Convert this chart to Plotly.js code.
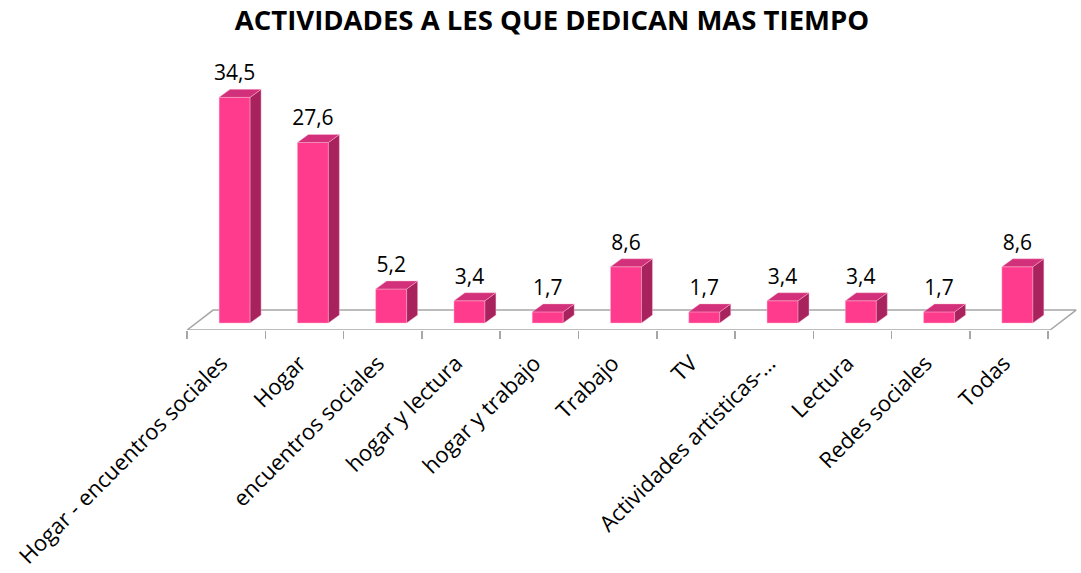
<!DOCTYPE html>
<html>
<head>
<meta charset="utf-8">
<script src="https://cdn.plot.ly/plotly-3.0.1.min.js"></script>
<style>html,body{margin:0;padding:0;background:#fff;}#chart{width:1081px;height:573px;}</style>
</head>
<body>
<div id="chart"></div>
<script>
// ---- data ----
const categories = ["Hogar - encuentros sociales","Hogar","encuentros sociales","hogar y lectura","hogar y trabajo","Trabajo","TV","Actividades artisticas-…","Lectura","Redes sociales","Todas"];
const values = [34.5, 27.6, 5.2, 3.4, 1.7, 8.6, 1.7, 3.4, 3.4, 1.7, 8.6];
const valueLabels = ["34,5","27,6","5,2","3,4","1,7","8,6","1,7","3,4","3,4","1,7","8,6"];
const chartTitle = "ACTIVIDADES A LES QUE DEDICAN MAS TIEMPO";

// ---- 3D look parameters (styling) ----
const half = 0.198;   // half bar width (category units)
const dx = 0.14;      // depth offset x (category units)
const dy = 1.22;      // depth offset y (value units)
const floorFrontY = -1.07, floorBackY = 1.98;
const floorFrontX0 = -0.607, floorFrontX1 = 10.418, floorDX = 0.332;

const idx = categories.map((c, i) => i);

function polys(fn) {
  const xs = [], ys = [];
  idx.forEach(i => {
    const pts = fn(i, values[i]);
    pts.forEach(p => { xs.push(p[0]); ys.push(p[1]); });
    xs.push(pts[0][0]); ys.push(pts[0][1]);
    xs.push(null); ys.push(null);
  });
  return {xs, ys};
}

const frontFaces = polys((i, v) => [[i-half,0],[i+half,0],[i+half,v],[i-half,v]]);
const sideFaces = polys((i, v) => [[i+half,0],[i+half+dx,dy],[i+half+dx,v+dy],[i+half,v]]);
const topFaces = polys((i, v) => [[i-half,v],[i+half,v],[i+half+dx,v+dy],[i-half+dx,v+dy]]);

const floorTrace = {
  x: [floorFrontX0, floorFrontX1, floorFrontX1+floorDX, floorFrontX0+floorDX, floorFrontX0],
  y: [floorFrontY, floorFrontY, floorBackY, floorBackY, floorFrontY],
  mode: 'lines', line: {color: '#a6a6a6', width: 1.5}, hoverinfo: 'skip', xaxis: 'x', yaxis: 'y'
};

const faceTrace = (d, color) => ({
  x: d.xs, y: d.ys, mode: 'lines', fill: 'toself', fillcolor: color,
  line: {color: 'rgba(255,190,215,0.7)', width: 0.6}, hoverinfo: 'skip', connectgaps: false,
  xaxis: 'x', yaxis: 'y'
});

const labelTrace = {
  x: idx, y: values.map(v => v + dy + 0.6), text: valueLabels,
  mode: 'text', textposition: 'top center', cliponaxis: false,
  textfont: {family: 'Open Sans, sans-serif', size: 21, color: '#000'},
  hoverinfo: 'skip', xaxis: 'x', yaxis: 'y'
};

const catTrace = {
  x: categories, y: categories.map(() => 0), mode: 'markers',
  marker: {opacity: 0}, hoverinfo: 'skip', xaxis: 'x2', yaxis: 'y'
};

const data = [floorTrace, faceTrace(frontFaces, '#FF3B8D'), faceTrace(sideFaces, '#A8235E'), faceTrace(topFaces, '#D2307A'), labelTrace, catTrace];

const layout = {
  width: 1081, height: 573,
  margin: {l: 172, r: 1, t: 81, b: 243},
  paper_bgcolor: '#fff', plot_bgcolor: 'rgba(0,0,0,0)',
  showlegend: false,
  title: {
    text: '<b>' + chartTitle + '</b>',
    font: {family: 'Open Sans, sans-serif', size: 27.5, color: '#000'},
    x: 0.5106, xref: 'container', xanchor: 'center',
    y: 1 - 20/573, yref: 'container', yanchor: 'middle'
  },
  xaxis: {range: [-0.8, 10.8], visible: false, fixedrange: true},
  xaxis2: {
    type: 'category', categoryorder: 'array', categoryarray: categories,
    range: [-0.693, 10.907], overlaying: 'x', anchor: 'y', side: 'bottom',
    tickangle: -45, ticks: 'outside', tickson: 'boundaries', ticklen: 8, tickwidth: 1.5,
    tickcolor: '#a6a6a6', showgrid: false, showline: false, zeroline: false,
    tickfont: {family: 'Open Sans, sans-serif', size: 22, color: '#000'},
    ticklabelstandoff: 15, ticklabelshift: -5,
    automargin: false
  },
  yaxis: {range: [-1.07, 37], visible: false, fixedrange: true}
};

Plotly.newPlot('chart', data, layout, {displayModeBar: false, staticPlot: true});
</script>
</body>
</html>
